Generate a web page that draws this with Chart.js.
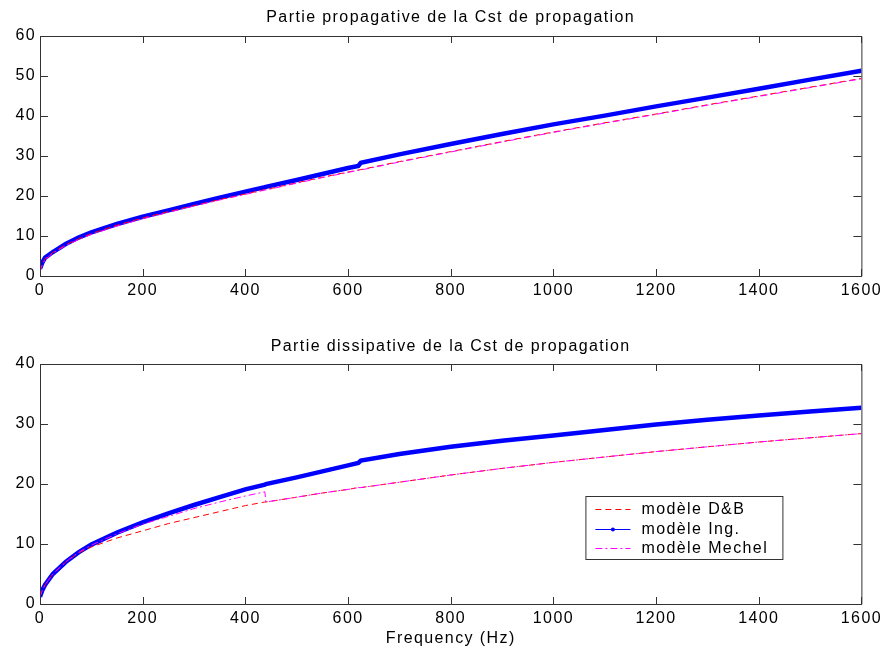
<!DOCTYPE html>
<html>
<head>
<meta charset="utf-8">
<script src="https://cdn.jsdelivr.net/npm/chart.js@4.4.0/dist/chart.umd.min.js"></script>
<style>
body{margin:0;background:#fff;}
#wrap{position:relative;width:887px;height:655px;}
.box{position:absolute;left:0;width:887px;}
#top{top:0;height:320px;}
#bottom{top:320px;height:335px;}
</style>
</head>
<body>
<div id="wrap">
<div class="box" id="top"><canvas id="propChart" width="887" height="320"></canvas></div>
<div class="box" id="bottom"><canvas id="dissChart" width="887" height="335"></canvas></div>
</div>
<script>
// DATA

const freq = [0,5,10,25,50,75,100,150,200,250,300,350,400,438,440,500,550,600,620,625,700,800,900,1000,1100,1200,1300,1400,1500,1600];

const dbProp = [1.2,3.2,4.3,5.9,7.8,9.3,10.6,12.7,14.5,16.1,17.6,19.1,20.5,21.6,21.6,23.3,24.7,26.0,26.5,26.6,28.6,31.1,33.6,36.0,38.3,40.5,42.8,45.0,47.2,49.4];
const ingProp = [1.8,3.5,4.6,6.0,8.0,9.6,10.9,13.0,14.8,16.4,18.0,19.6,21.1,22.2,22.3,24.0,25.5,27.0,27.5,28.3,30.4,33.0,35.5,37.9,40.1,42.4,44.6,46.8,49.1,51.3];
const mechelProp = [1.1,3.0,4.1,5.7,7.6,9.1,10.4,12.5,14.3,15.9,17.5,19.0,20.4,21.5,21.5,23.2,24.6,25.9,26.4,26.5,28.5,31.0,33.5,35.9,38.2,40.4,42.7,44.9,47.1,49.3];

const dbDiss = [1.2,2.4,3.2,5.0,7.0,8.5,9.5,11.0,12.2,13.4,14.4,15.4,16.4,17.0,17.0,17.8,18.5,19.1,19.4,19.4,20.3,21.5,22.6,23.6,24.5,25.4,26.2,27.0,27.7,28.4];
const ingDiss = [1.2,2.4,3.2,5.0,7.0,8.6,9.9,11.9,13.6,15.1,16.5,17.8,19.1,19.9,20.0,21.1,22.1,23.1,23.5,23.9,25.0,26.2,27.2,28.1,29.0,29.9,30.7,31.4,32.1,32.7];
const mechelDiss = [1.2,2.4,3.2,5.0,7.0,8.6,9.8,11.7,13.3,14.6,15.9,17.0,18.0,18.7,17.0,17.8,18.5,19.1,19.4,19.4,20.3,21.5,22.6,23.6,24.5,25.4,26.2,27.0,27.7,28.4];

const seriesNames = ["modèle D&B","modèle Ing.","modèle Mechel"];
const xTicks = [0,200,400,600,800,1000,1200,1400,1600];
const yTicksProp = [0,10,20,30,40,50,60];
const yTicksDiss = [0,10,20,30,40];

// LOOK

const FONT = '"Liberation Sans", Arial, sans-serif';
const SIZE = 16;
const SPACING = "1.4px";
Chart.defaults.font.family = FONT;
Chart.defaults.font.size = SIZE;
Chart.defaults.color = "#000";

// wide letter spacing like the old matlab screen fonts
const spacing = {
id:"spacing",
beforeLayout(chart){ chart.ctx.letterSpacing = SPACING; },
beforeDraw(chart){ chart.ctx.letterSpacing = SPACING; }
};

// box round the axes with inward ticks on all four sides
const frame = {
id:"frame",
afterDraw(chart){
const ctx = chart.ctx;
const a = chart.chartArea;
const sx = chart.scales.x;
const sy = chart.scales.y;
ctx.save();
ctx.strokeStyle = "#333";
ctx.lineWidth = 1;
ctx.beginPath();
ctx.rect(a.left+0.5, a.top+0.5, a.right-a.left, a.bottom-a.top);
sx.ticks.forEach(function(t){
let px = Math.round(sx.getPixelForValue(t.value))+0.5;
ctx.moveTo(px, a.bottom); ctx.lineTo(px, a.bottom-7);
ctx.moveTo(px, a.top); ctx.lineTo(px, a.top+7);
});
sy.ticks.forEach(function(t){
let py = Math.round(sy.getPixelForValue(t.value))+0.5;
ctx.moveTo(a.left, py); ctx.lineTo(a.left+8, py);
ctx.moveTo(a.right, py); ctx.lineTo(a.right-8, py);
});
ctx.stroke();
ctx.restore();
}
};

// legend box inside the lower plot
const legendBox = {
id:"legendBox",
afterDraw(chart){
const ctx = chart.ctx;
const a = chart.chartArea;
const x0 = a.right-276, y0 = a.top+132, w = 197, h = 63;
const rows = [13, 32.5, 52];
ctx.save();
ctx.fillStyle = "#fff";
ctx.fillRect(x0, y0, w, h);
ctx.strokeStyle = "#333";
ctx.lineWidth = 1;
ctx.strokeRect(x0+0.5, y0+0.5, w, h);
chart.data.datasets.forEach(function(ds, i){
let y = Math.round(y0+rows[i])+0.5;
ctx.strokeStyle = ds.borderColor;
ctx.lineWidth = 1;
ctx.setLineDash(ds.borderDash || []);
ctx.beginPath();
ctx.moveTo(x0+10, y); ctx.lineTo(x0+45, y);
ctx.stroke();
ctx.setLineDash([]);
if(i === 1){
ctx.fillStyle = ds.borderColor;
ctx.beginPath();
ctx.arc(x0+27.5, y, 2, 0, Math.PI*2);
ctx.fill();
}
ctx.fillStyle = "#000";
ctx.font = SIZE + "px " + FONT;
ctx.letterSpacing = SPACING;
ctx.textBaseline = "middle";
ctx.textAlign = "left";
ctx.fillText(ds.label, x0+56, y0+rows[i]+1);
});
ctx.restore();
}
};

function points(values){
return freq.map(function(f, i){ return {x:f, y:values[i]}; });
}

function makeSets(db, ing, mechel){
return [
{label:seriesNames[0], data:points(db), borderColor:"#ff0000", borderWidth:1, borderDash:[6,4], order:1},
{label:seriesNames[1], data:points(ing), borderColor:"#0000ff", borderWidth:4.5, order:2},
{label:seriesNames[2], data:points(mechel), borderColor:"#ff00ff", borderWidth:1, borderDash:[7,3,2,3], order:0}
];
}

function makeOptions(title, titlePad, yTicks, xTitle, xHeight){
return {
responsive:false,
animation:false,
elements:{point:{radius:0}, line:{tension:0, fill:false}},
layout:{padding:{left:0, right:25, top:0, bottom:0}},
plugins:{
legend:{display:false},
tooltip:{enabled:false},
// fullSize false so the title centres over the axes only
title:{display:true, fullSize:false, text:title, color:"#000", font:{size:SIZE, weight:"normal"}, padding:titlePad}
},
scales:{
x:{
type:"linear", min:0, max:1600,
grid:{display:false, drawTicks:false},
border:{display:false},
ticks:{padding:5, maxRotation:0, autoSkip:false, callback:function(v){ return String(v); }},
afterBuildTicks:function(s){ s.ticks = xTicks.map(function(v){ return {value:v}; }); },
afterFit:function(s){ s.height = xHeight; },
title:{display:!!xTitle, text:xTitle || "", font:{size:SIZE}, padding:{top:0, bottom:6.5}}
},
y:{
type:"linear", min:yTicks[0], max:yTicks[yTicks.length-1],
grid:{display:false, drawTicks:false},
border:{display:false},
ticks:{padding:4, callback:function(v){ return String(v); }},
afterBuildTicks:function(s){ s.ticks = yTicks.map(function(v){ return {value:v}; }); },
afterFit:function(s){ s.width = 40; }
}
}
};
}

// TOP CHART

new Chart(
document.getElementById("propChart"),
{
type:"line",
data:{datasets:makeSets(dbProp, ingProp, mechelProp)},
options:makeOptions("Partie propagative de la Cst de propagation", {top:7.6, bottom:9.2}, yTicksProp, null, 44),
plugins:[spacing, frame]
}
);

// BOTTOM CHART

new Chart(
document.getElementById("dissChart"),
{
type:"line",
data:{datasets:makeSets(dbDiss, ingDiss, mechelDiss)},
options:makeOptions("Partie dissipative de la Cst de propagation", {top:16.9, bottom:7.9}, yTicksDiss, "Frequency (Hz)", 51),
plugins:[spacing, frame, legendBox]
}
);
</script>
</body>
</html>
